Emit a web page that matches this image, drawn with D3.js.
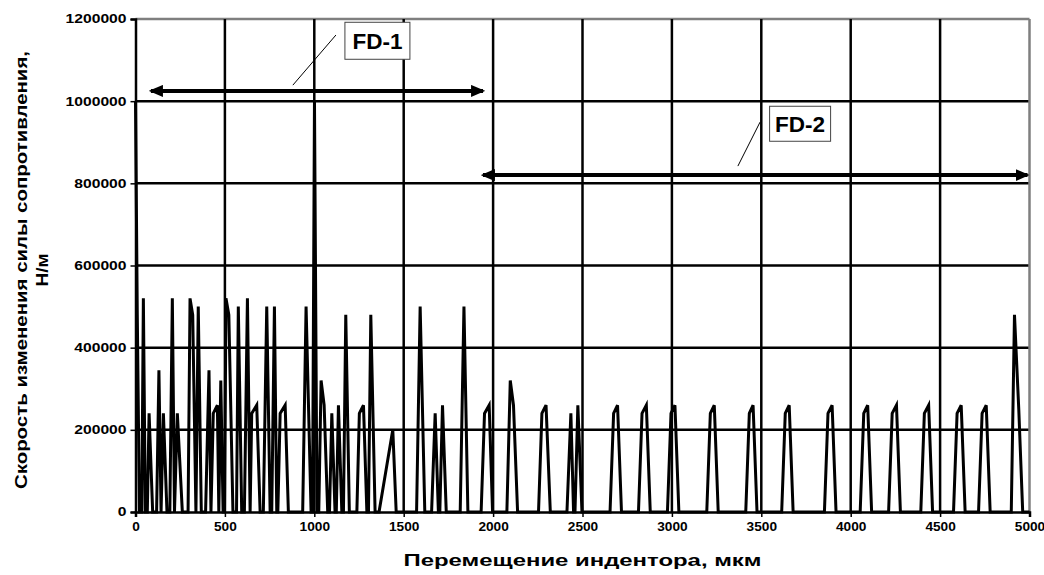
<!DOCTYPE html>
<html>
<head>
<meta charset="utf-8">
<script src="https://cdn.jsdelivr.net/npm/d3@7"></script>
<style>
  body { margin: 0; background: #fff; }
  text { font-family: Arial, "Liberation Sans", sans-serif; font-weight: bold; fill: #000; }
</style>
</head>
<body>
<div id="chart"></div>
<script>
// displacement (mkm) and resistance force rate (N/m)
var xs = [0, 10, 22, 35, 44, 55, 66, 76, 96, 118, 131, 143, 156, 176, 192, 206, 218, 234, 262,
  294, 305, 320, 338, 351, 368, 392, 411, 422, 435, 458, 466, 477, 490, 498, 506, 522, 545,
  565, 575, 594, 609, 626, 641, 650, 678, 697, 715, 734, 753, 762, 777, 790, 796, 809, 837, 855,
  935, 954, 982, 990, 1001, 1015, 1025, 1038, 1055, 1075, 1085, 1098, 1116, 1123, 1135, 1154,
  1163, 1176, 1196, 1238, 1252, 1275, 1294, 1303, 1316, 1340, 1362, 1439, 1458,
  1572, 1592, 1618, 1656, 1676, 1694, 1702, 1717, 1738, 1816, 1837, 1859,
  1933, 1952, 1978, 1997, 2077, 2096, 2114, 2137, 2254, 2273, 2296, 2320,
  2413, 2435, 2450, 2458, 2474, 2497, 2654, 2674, 2696, 2718, 2813, 2833, 2857, 2879,
  2975, 2995, 3017, 3039, 3195, 3215, 3237, 3259, 3413, 3433, 3454, 3476,
  3614, 3634, 3656, 3678, 3853, 3873, 3896, 3918, 4053, 4073, 4095, 4117,
  4212, 4232, 4256, 4278, 4392, 4412, 4436, 4458, 4575, 4595, 4618, 4640,
  4715, 4735, 4758, 4780, 4898, 4916, 4940, 4962, 5000];
var ys = [1000000, 480000, 0, 0, 520000, 0, 0, 240000, 0, 0, 345000, 0, 240000, 0, 0, 520000, 0, 240000, 0,
  0, 520000, 480000, 0, 500000, 0, 0, 345000, 0, 240000, 260000, 0, 320000, 0, 0, 520000, 480000, 0,
  0, 500000, 0, 0, 520000, 0, 240000, 260000, 0, 0, 500000, 0, 0, 500000, 0, 0, 240000, 260000, 0,
  0, 500000, 0, 0, 1000000, 0, 0, 320000, 260000, 0, 0, 240000, 0, 0, 260000, 0,
  0, 480000, 0, 0, 240000, 260000, 0, 0, 480000, 0, 0, 200000, 0,
  0, 500000, 0, 0, 240000, 0, 0, 260000, 0, 0, 500000, 0,
  0, 240000, 260000, 0, 0, 320000, 260000, 0, 0, 240000, 260000, 0,
  0, 240000, 0, 0, 260000, 0, 0, 240000, 260000, 0, 0, 240000, 260000, 0,
  0, 240000, 260000, 0, 0, 240000, 260000, 0, 0, 240000, 260000, 0,
  0, 240000, 260000, 0, 0, 240000, 260000, 0, 0, 240000, 260000, 0,
  0, 240000, 260000, 0, 0, 240000, 260000, 0, 0, 240000, 260000, 0,
  0, 240000, 260000, 0, 0, 480000, 250000, 0, 0];

var xTicks = [0, 500, 1000, 1500, 2000, 2500, 3000, 3500, 4000, 4500, 5000];
var yTicks = [0, 200000, 400000, 600000, 800000, 1000000, 1200000];

// zones: name, start, end, arrow level, label position, leader line
var zoneNames = ['FD-1', 'FD-2'];
var zoneStart = [75, 1932];
var zoneEnd = [1955, 5000];
var zoneLevel = [1025000, 820000];
var zoneLabelX = [1353, 3717];
var zoneLabelY = [1147000, 945000];
var leaderFrom = [[880, 1039000], [3369, 842000]];
var leaderTo = [[1121, 1161000], [3493, 949000]];

var width = 1044, height = 575;
var margin = {left: 135.5, right: 14.5, top: 19, bottom: 63};

var svg = d3.select('#chart').append('svg')
    .attr('width', width)
    .attr('height', height);

var x = d3.scaleLinear()
    .domain([0, 5000])
    .range([margin.left, width - margin.right]);

var y = d3.scaleLinear()
    .domain([0, 1200000])
    .range([height - margin.bottom, margin.top]);

var defs = svg.append('defs');
defs.append('marker')
    .attr('id', 'head')
    .attr('viewBox', '0 0 14 12')
    .attr('refX', 12).attr('refY', 6)
    .attr('markerWidth', 14).attr('markerHeight', 12)
    .attr('markerUnits', 'userSpaceOnUse')
    .attr('orient', 'auto-start-reverse')
  .append('path')
    .attr('d', 'M0,0 L14,6 L0,12 Z')
    .attr('fill', '#000');

// grid
svg.append('g').selectAll('line.h')
  .data(yTicks.slice(1))
  .enter().append('line')
    .attr('x1', x(0)).attr('x2', x(5000))
    .attr('y1', y).attr('y2', y)
    .attr('stroke', function(d) { return d == 1200000 ? '#7f7f7f' : '#000'; })
    .attr('stroke-width', 2.5);

svg.append('g').selectAll('line.v')
  .data(xTicks.slice(1))
  .enter().append('line')
    .attr('x1', x).attr('x2', x)
    .attr('y1', y(0)).attr('y2', y(1200000))
    .attr('stroke', function(d) { return d == 5000 ? '#7f7f7f' : '#000'; })
    .attr('stroke-width', 2.5);

// axes
var xAxis = svg.append('g')
    .attr('transform', 'translate(0,' + y(0) + ')')
    .call(d3.axisBottom(x).tickValues(xTicks).tickSize(5).tickPadding(5).tickFormat(d3.format('d')));
var yAxis = svg.append('g')
    .attr('transform', 'translate(' + x(0) + ',0)')
    .call(d3.axisLeft(y).tickValues(yTicks).tickSize(5).tickPadding(4).tickFormat(d3.format('d')));

[xAxis, yAxis].forEach(function(a) {
  a.select('.domain').attr('stroke', '#000').attr('stroke-width', 2.5);
  a.selectAll('.tick line').attr('stroke', '#000').attr('stroke-width', 1.5);
  a.selectAll('.tick text')
    .style('font-size', '12px')
    .attr('fill', '#000')
    .attr('lengthAdjust', 'spacingAndGlyphs');
});
xAxis.selectAll('.tick text').attr('textLength', function(d) { return String(d).length * 7.6; });
yAxis.selectAll('.tick text').attr('textLength', function(d) { return String(d).length * 8.7; });

// the series
var line = d3.line()
    .x(function(d) { return x(d[0]); })
    .y(function(d) { return y(d[1]); });

svg.append('path')
    .datum(d3.zip(xs, ys))
    .attr('d', line)
    .attr('fill', 'none')
    .attr('stroke', '#000')
    .attr('stroke-width', 3)
    .attr('stroke-linejoin', 'miter');

// zone arrows and labels
zoneNames.forEach(function(name, i) {
  svg.append('line')
      .attr('x1', x(zoneStart[i]) + 2).attr('x2', x(zoneEnd[i]) - 2)
      .attr('y1', y(zoneLevel[i])).attr('y2', y(zoneLevel[i]))
      .attr('stroke', '#000').attr('stroke-width', 4)
      .attr('marker-start', 'url(#head)')
      .attr('marker-end', 'url(#head)');
  svg.append('line')
      .attr('x1', x(leaderFrom[i][0])).attr('y1', y(leaderFrom[i][1]))
      .attr('x2', x(leaderTo[i][0])).attr('y2', y(leaderTo[i][1]))
      .attr('stroke', '#000').attr('stroke-width', 1);
  var cx = x(zoneLabelX[i]), cy = y(zoneLabelY[i]);
  var w = i == 0 ? 65 : 61, h = i == 0 ? 37 : 35;
  svg.append('rect')
      .attr('x', cx - w / 2).attr('y', cy - h / 2)
      .attr('width', w).attr('height', h)
      .attr('fill', '#fff').attr('stroke', '#444').attr('stroke-width', 1);
  svg.append('text')
      .attr('x', cx).attr('y', cy + 8)
      .attr('text-anchor', 'middle')
      .style('font-size', '22px')
      .attr('textLength', 50).attr('lengthAdjust', 'spacingAndGlyphs')
      .text(name);
});

// titles
svg.append('text')
    .attr('x', (x(0) + x(5000)) / 2).attr('y', 566)
    .attr('text-anchor', 'middle')
    .style('font-size', '16px')
    .attr('textLength', 358).attr('lengthAdjust', 'spacingAndGlyphs')
    .text('Перемещение индентора, мкм');

svg.append('text')
    .attr('transform', 'translate(27,270) rotate(-90)')
    .attr('text-anchor', 'middle')
    .style('font-size', '17px')
    .attr('textLength', 438).attr('lengthAdjust', 'spacingAndGlyphs')
    .text('Скорость изменения силы сопротивления,');

svg.append('text')
    .attr('transform', 'translate(48,270) rotate(-90)')
    .attr('text-anchor', 'middle')
    .style('font-size', '17px')
    .attr('textLength', 33).attr('lengthAdjust', 'spacingAndGlyphs')
    .text('Н/м');
</script>
</body>
</html>
